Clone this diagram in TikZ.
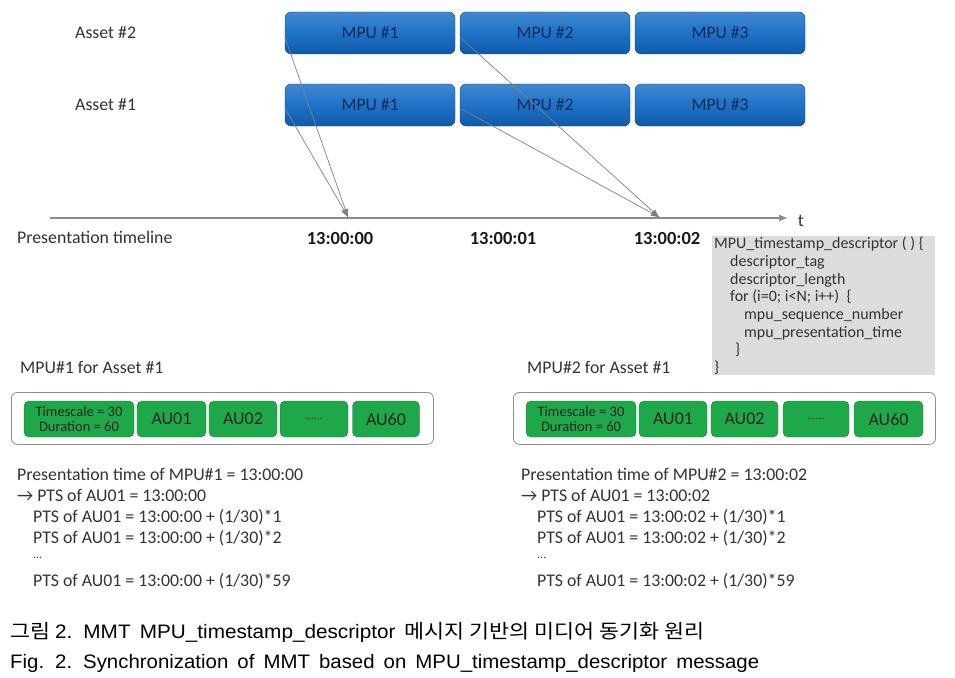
\documentclass[tikz,border=0pt]{standalone}
\usepackage{fontspec}
\setmainfont{Carlito}
\newfontfamily\capfont[FakeStretch=0.82, WordSpace=1.6]{Liberation Sans}
\newfontfamily\krfont[FakeStretch=0.86]{Noto Sans CJK KR}
\usetikzlibrary{arrows.meta}
\definecolor{mpublue}{HTML}{1E72C8}
\definecolor{mpubluedark}{HTML}{1159A8}
\definecolor{mputext}{HTML}{0D2A55}
\definecolor{augreen}{HTML}{1FA84A}
\definecolor{augreendark}{HTML}{15823A}
\definecolor{bodytext}{HTML}{333333}
\definecolor{descgray}{HTML}{DDDDDD}
\tikzset{
  mpu/.style={draw=mpubluedark!80!black, top color=mpublue!85!white, bottom color=mpubluedark, middle color=mpublue, rounded corners=6pt,
    minimum width=170pt, minimum height=42pt, inner sep=0pt, text=mputext, font=\fontsize{17.5}{19}\selectfont},
  au/.style={draw=augreendark, fill=augreen, rounded corners=5pt, minimum height=36pt, inner sep=0pt,
    text=black!85, font=\fontsize{18}{19}\selectfont},
  tsbox/.style={au, font=\fontsize{14.5}{15}\selectfont, align=center},
  dotbox/.style={au, font=\fontsize{11}{12}\selectfont},
  holder/.style={draw=black!45, fill=white, rounded corners=6pt, line width=0.8pt, inner sep=0pt},
  lbl/.style={anchor=west, inner sep=0pt, text=bodytext, font=\fontsize{17.8}{19}\selectfont},
  tlbl/.style={inner sep=0pt, text=black!90, font=\bfseries\fontsize{18.5}{19}\selectfont},
  dtext/.style={anchor=west, inner sep=0pt, text=bodytext, font=\fontsize{16}{17}\selectfont},
  link/.style={draw=black!50, line width=0.7pt, -{Latex[length=9pt,width=6pt]}, shorten >=-1pt},
}
\begin{document}
\begin{tikzpicture}[x=1pt,y=-1pt]
\useasboundingbox[fill=white] (0,0) rectangle (955,677);
% asset labels
\node[lbl] (asset2) at (75,33) {Asset \#2};
\node[lbl] (asset1) at (75,105) {Asset \#1};
% MPU boxes
\node[mpu] (a2m1) at (370,33) {MPU \#1};
\node[mpu] (a2m2) at (545,33) {MPU \#2};
\node[mpu] (a2m3) at (720,33) {MPU \#3};
\node[mpu] (a1m1) at (370,105) {MPU \#1};
\node[mpu] (a1m2) at (545,105) {MPU \#2};
\node[mpu] (a1m3) at (720,105) {MPU \#3};
% timeline
\coordinate (tlstart) at (50,218);
\coordinate (tlend) at (788,218);
\draw[draw=black!45, line width=1.3pt, -{Latex[length=9pt,width=7pt]}] (tlstart) -- (tlend);
\node[inner sep=0pt, text=bodytext, font=\fontsize{18}{19}\selectfont] (tletter) at (801,221) {t};
\node[lbl] (ptl) at (17,237) {Presentation timeline};
\node[tlbl] (t0) at (340,238) {13:00:00};
\node[tlbl] (t1) at (503,238) {13:00:01};
\node[tlbl] (t2) at (667,238) {13:00:02};
\coordinate (p0) at (348,217);
\coordinate (p2) at (659,217);
% links
\draw[link] ([yshift=-4pt]a2m1.west) -- (p0);
\draw[link] ([yshift=-3pt]a1m1.west) -- (p0);
\draw[link] ([yshift=-4pt]a2m2.west) -- (p2);
\draw[link] ([yshift=-3pt]a1m2.west) -- (p2);
% descriptor box
\node[fill=descgray, anchor=north west, minimum width=223pt, minimum height=139pt, inner sep=0pt] (desc) at (712,236) {};
\node[dtext] (d1) at (714,244) {MPU\_timestamp\_descriptor ( ) \{};
\node[dtext] (d2) at (730,262) {descriptor\_tag};
\node[dtext] (d3) at (730,280) {descriptor\_length};
\node[dtext] (d4) at (730,297) {for (i=0; i<N; i++)\ \ \{};
\node[dtext] (d5) at (744,315) {mpu\_sequence\_number};
\node[dtext] (d6) at (744,333) {mpu\_presentation\_time};
\node[dtext] (d7) at (735,350) {\}};
\node[dtext] (d8) at (714,368) {\}};
% MPU#1 section
\node[lbl] (h1) at (20,367) {MPU\#1 for Asset \#1};
\node[holder, minimum width=422pt, minimum height=52pt, anchor=north west] (c1) at (11,392) {};
\node[tsbox, minimum width=110pt] (ts1) at (79,419) {Timescale = 30\\Duration = 60};
\node[au, minimum width=69pt] (au1a) at (171.5,419) {AU01};
\node[au, minimum width=68pt] (au1b) at (243,419) {AU02};
\node[dotbox, minimum width=68pt] (au1c) at (314,419) {......};
\node[au, minimum width=67pt] (au1d) at (386,419) {AU60};
\node[lbl] (l11) at (17,474) {Presentation time of MPU\#1 = 13:00:00};
\node[lbl] (l12) at (17,495) {\symbol{"2192} PTS of AU01 = 13:00:00};
\node[lbl] (l13) at (33,517) {PTS of AU01 = 13:00:00 + (1/30)*1};
\node[lbl] (l14) at (33,538) {PTS of AU01 = 13:00:00 + (1/30)*2};
\node[lbl, font=\fontsize{12}{12}\selectfont] (l15) at (33,558) {...};
\node[lbl] (l16) at (33,581) {PTS of AU01 = 13:00:00 + (1/30)*59};
% MPU#2 section
\node[lbl] (h2) at (527,367) {MPU\#2 for Asset \#1};
\node[holder, minimum width=422pt, minimum height=52pt, anchor=north west] (c2) at (513,392) {};
\node[tsbox, minimum width=110pt] (ts2) at (581,419) {Timescale = 30\\Duration = 60};
\node[au, minimum width=68pt] (au2a) at (673,419) {AU01};
\node[au, minimum width=67pt] (au2b) at (744.5,419) {AU02};
\node[dotbox, minimum width=66pt] (au2c) at (816,419) {......};
\node[au, minimum width=69pt] (au2d) at (888.5,419) {AU60};
\node[lbl] (l21) at (521,474) {Presentation time of MPU\#2 = 13:00:02};
\node[lbl] (l22) at (521,495) {\symbol{"2192} PTS of AU01 = 13:00:02};
\node[lbl] (l23) at (537,517) {PTS of AU01 = 13:00:02 + (1/30)*1};
\node[lbl] (l24) at (537,538) {PTS of AU01 = 13:00:02 + (1/30)*2};
\node[lbl, font=\fontsize{12}{12}\selectfont] (l25) at (537,558) {...};
\node[lbl] (l26) at (537,581) {PTS of AU01 = 13:00:02 + (1/30)*59};
% captions
\node[anchor=base west, inner sep=0pt, text=black] (cap1) at (10,638)
  {\resizebox{694pt}{\height}{\fontsize{19.5}{22}\selectfont\krfont 그림 \capfont 2. MMT MPU\_timestamp\_descriptor \krfont 메시지 기반의 미디어 동기화 원리}};
\node[anchor=base west, inner sep=0pt, text=black] (cap2) at (10,668)
  {\resizebox{749pt}{\height}{\fontsize{19.5}{22}\selectfont\capfont Fig. 2. Synchronization of MMT based on MPU\_timestamp\_descriptor message}};
\end{tikzpicture}
\end{document}
